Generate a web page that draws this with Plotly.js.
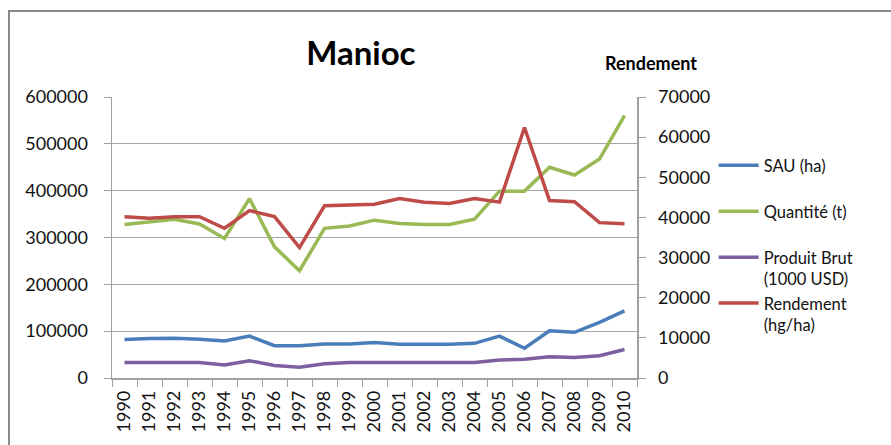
<!DOCTYPE html>
<html>
<head>
<meta charset="utf-8">
<script src="https://cdn.plot.ly/plotly-3.0.1.min.js"></script>
<style>
  html, body { margin:0; padding:0; background:#fff; }
  #wrap { position:relative; width:891px; height:445px; overflow:hidden; }
  #chart { position:absolute; left:0; top:0; width:891px; height:445px; }
  #frame { position:absolute; left:8px; top:10px; width:1000px; height:600px;
           border-left:2px solid #8a8a8a; border-top:2px solid #8a8a8a; pointer-events:none; }
</style>
</head>
<body>
<div id="wrap"><div id="chart"></div><div id="frame"></div></div>
<script>
const years = ["1990","1991","1992","1993","1994","1995","1996","1997","1998","1999","2000",
               "2001","2002","2003","2004","2005","2006","2007","2008","2009","2010"];
const sau = [82000,84500,85000,83000,79000,89500,69000,69000,72500,72500,76000,
             72000,72000,72000,74000,89500,63500,101000,97500,119000,143500];
const quantite = [328000,334000,339000,329000,298000,383000,280000,229000,319500,324500,337000,
                  330000,328000,328000,339000,399000,399000,450000,433500,467500,560000];
const produitBrut = [33000,33000,33000,33000,28000,37000,26500,23000,30500,33000,33000,
                     33000,33000,33000,33000,38500,40000,45500,44000,47500,61000];
const rendement = [40200,39800,40200,40200,37300,41700,40200,32500,42900,43100,43300,
                   44700,43800,43500,44700,43800,62400,44200,43900,38700,38400];

const FONT = "Lato, 'Open Sans', sans-serif";
const LW = 3.5;
const traces = [
  {x: years, y: sau, name: "SAU (ha)<br> ", type: "scatter", mode: "lines",
   line: {color: "#4A7EBB", width: LW}},
  {x: years, y: quantite, name: "Quantité (t)<br> ", type: "scatter", mode: "lines",
   line: {color: "#98B954", width: LW}},
  {x: years, y: produitBrut, name: "Produit Brut<br>(1000 USD)", type: "scatter", mode: "lines",
   line: {color: "#7D5FA0", width: LW}},
  {x: years, y: rendement, name: "Rendement<br>(hg/ha)", type: "scatter", mode: "lines",
   yaxis: "y2", line: {color: "#BE4B48", width: LW}}
];

const layout = {
  width: 891, height: 445,
  margin: {l: 112, r: 254, t: 97, b: 67, pad: 0},
  paper_bgcolor: "rgba(0,0,0,0)",
  plot_bgcolor: "#fff",
  font: {family: FONT, color: "#111", size: 18},
  title: {text: "<b>Manioc</b>", font: {family: FONT, size: 33, color: "#000"},
          x: 0.405, xanchor: "center", y: 0.88, yanchor: "middle"},
  showlegend: true,
  legend: {x: 1.146, xanchor: "left", y: 0.818, yanchor: "top",
           font: {family: FONT, size: 16.5, color: "#111"},
           valign: "top", tracegroupgap: 0, itemwidth: 40,
           bgcolor: "rgba(0,0,0,0)"},
  xaxis: {type: "category", range: [-0.5, 20.5], tickangle: -90,
          ticks: "outside", ticklen: 7, tickcolor: "#a0a0a0", tickson: "boundaries",
          showline: true, linecolor: "#a0a0a0", linewidth: 1.5,
          showgrid: false, zeroline: false, fixedrange: true,
          tickfont: {family: FONT, size: 18, color: "#111"}, ticklabelstandoff: 4},
  yaxis: {range: [0, 600000], dtick: 100000, tickformat: "d",
          ticks: "outside", ticklen: 7, tickcolor: "#a0a0a0",
          showline: true, linecolor: "#a0a0a0", linewidth: 1.5,
          showgrid: true, gridcolor: "#a6a6a6", gridwidth: 1.2, zeroline: false,
          tickfont: {family: FONT, size: 18, color: "#111"}, ticklabelstandoff: 12},
  yaxis2: {range: [0, 70000], dtick: 10000, tickformat: "d", overlaying: "y", side: "right",
           ticks: "outside", ticklen: 7, tickcolor: "#a0a0a0",
           showline: true, linecolor: "#a0a0a0", linewidth: 1.5,
           showgrid: false, zeroline: false,
           tickfont: {family: FONT, size: 18, color: "#111"}, ticklabelstandoff: 9},
  annotations: [
    {text: "<b>Rendement</b>", xref: "paper", yref: "paper", x: 1.027, y: 1.12,
     xanchor: "center", yanchor: "middle", showarrow: false,
     font: {family: FONT, size: 18, color: "#000"}}
  ]
};

Plotly.newPlot("chart", traces, layout, {displayModeBar: false, staticPlot: true});
</script>
</body>
</html>
